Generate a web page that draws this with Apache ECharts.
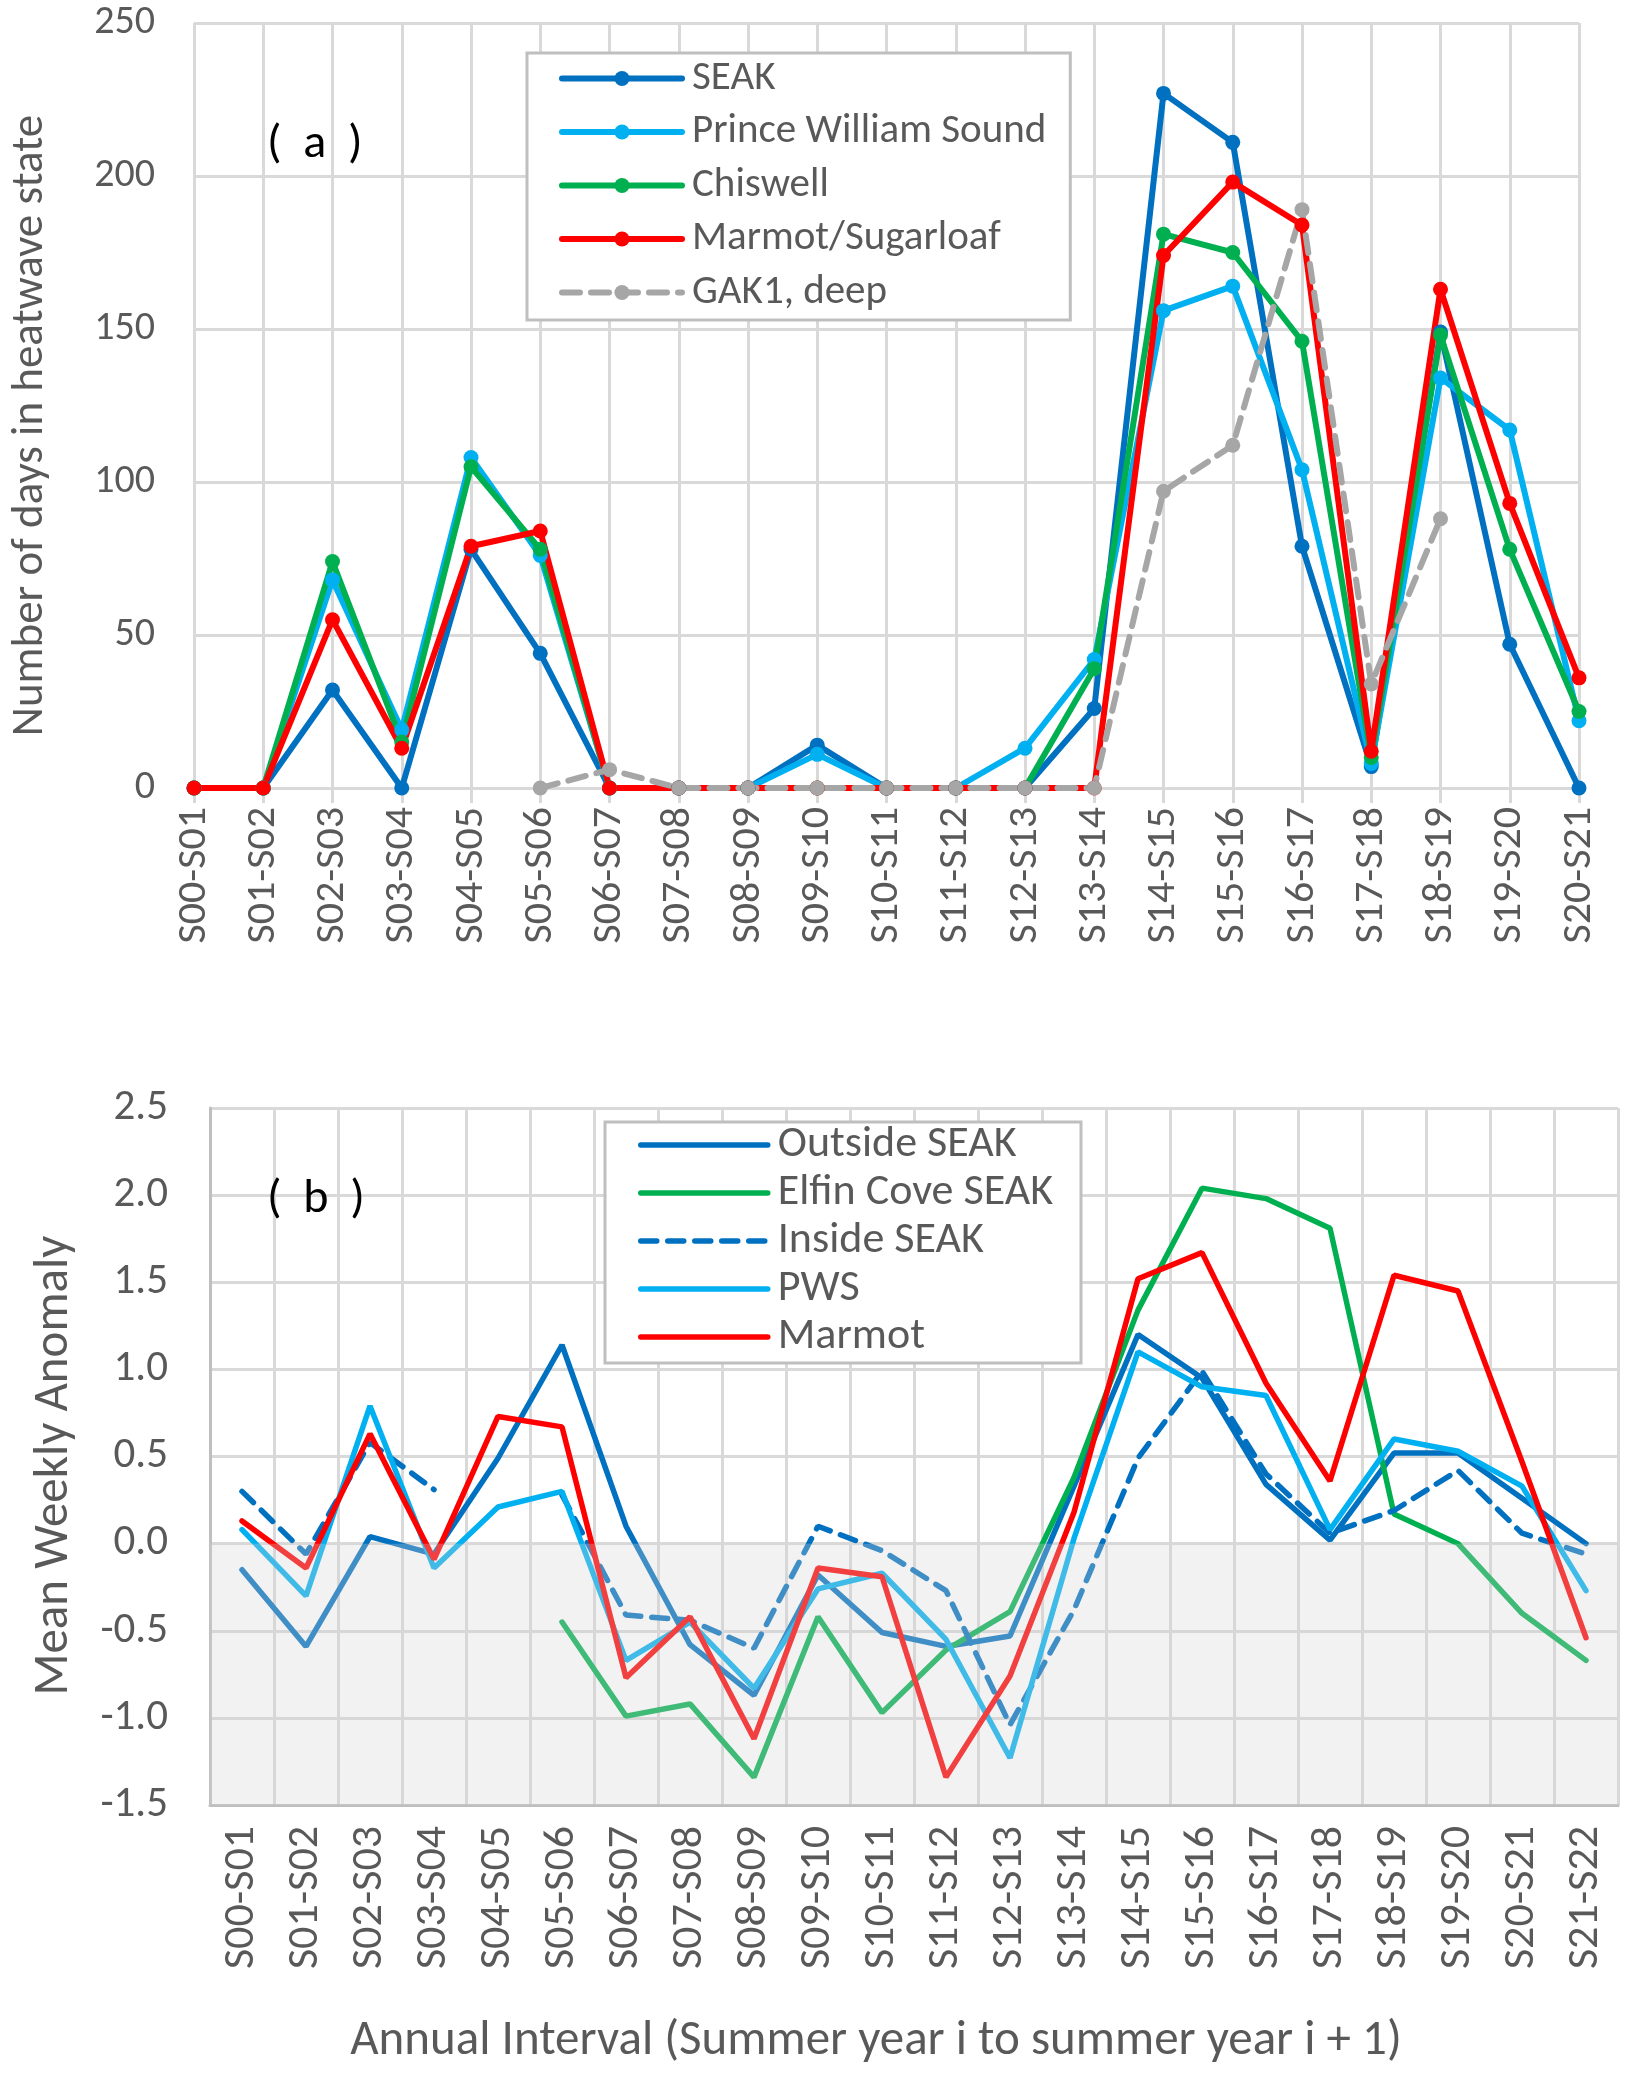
<!DOCTYPE html>
<html>
<head>
<meta charset="utf-8">
<title>Heatwave days and mean weekly anomaly</title>
<script src="https://cdn.jsdelivr.net/npm/echarts@6/dist/echarts.min.js"></script>
<style>
  html, body { margin: 0; padding: 0; background: #ffffff; }
  #chart { width: 1625px; height: 2073px; }
</style>
</head>
<body>
<div id="chart"></div>
<script>
// ── Panel (a): number of days in heatwave state ─────────────────────────────
const intervalsA = ['S00-S01', 'S01-S02', 'S02-S03', 'S03-S04', 'S04-S05', 'S05-S06', 'S06-S07',
  'S07-S08', 'S08-S09', 'S09-S10', 'S10-S11', 'S11-S12', 'S12-S13', 'S13-S14', 'S14-S15',
  'S15-S16', 'S16-S17', 'S17-S18', 'S18-S19', 'S19-S20', 'S20-S21'];

const seakDays     = [0, 0, 32, 0, 78, 44, 0, 0, 0, 14, 0, 0, 0, 26, 227, 211, 79, 7, 149, 47, 0];
const pwsDays      = [0, 0, 68, 19, 108, 76, 0, 0, 0, 11, 0, 0, 13, 42, 156, 164, 104, 8, 134, 117, 22];
const chiswellDays = [0, 0, 74, 15, 105, 78, 0, 0, 0, 0, 0, 0, 0, 39, 181, 175, 146, 10, 148, 78, 25];
const marmotDays   = [0, 0, 55, 13, 79, 84, 0, 0, 0, 0, 0, 0, 0, 0, 174, 198, 184, 12, 163, 93, 36];
const gak1Days     = [null, null, null, null, null, 0, 6, 0, 0, 0, 0, 0, 0, 0, 97, 112, 189, 34, 88, null, null];

// ── Panel (b): mean weekly anomaly ──────────────────────────────────────────
const intervalsB = ['S00-S01', 'S01-S02', 'S02-S03', 'S03-S04', 'S04-S05', 'S05-S06', 'S06-S07',
  'S07-S08', 'S08-S09', 'S09-S10', 'S10-S11', 'S11-S12', 'S12-S13', 'S13-S14', 'S14-S15',
  'S15-S16', 'S16-S17', 'S17-S18', 'S18-S19', 'S19-S20', 'S20-S21', 'S21-S22'];

const outsideSeak = [-0.15, -0.59, 0.04, -0.06, 0.49, 1.14, 0.10, -0.58, -0.87, -0.18, -0.51,
  -0.59, -0.53, 0.33, 1.20, 0.95, 0.34, 0.02, 0.52, 0.52, 0.26, 0.00];
const elfinCove   = [null, null, null, null, null, -0.45, -0.99, -0.92, -1.34, -0.42, -0.97,
  -0.61, -0.39, 0.38, 1.34, 2.04, 1.98, 1.81, 0.17, 0.00, -0.40, -0.67];
const insideSeak  = [0.30, -0.06, 0.58, 0.31, null, 0.28, -0.41, -0.44, -0.60, 0.10, -0.04,
  -0.27, -1.04, -0.38, 0.49, 0.99, 0.40, 0.06, 0.19, 0.42, 0.06, -0.06];
const pwsAnomaly  = [0.08, -0.30, 0.79, -0.14, 0.21, 0.30, -0.67, -0.45, -0.83, -0.26, -0.17,
  -0.55, -1.23, 0.03, 1.10, 0.90, 0.85, 0.08, 0.60, 0.53, 0.33, -0.27];
const marmotAnomaly = [0.13, -0.14, 0.63, -0.09, 0.73, 0.67, -0.77, -0.42, -1.12, -0.14, -0.19,
  -1.34, -0.76, 0.18, 1.52, 1.67, 0.92, 0.36, 1.54, 1.45, 0.47, -0.54];

// grey band below zero (drawn over the lines, like the original)
const belowZeroBand = [-1.5, -1.5, -1.5, -1.5, -1.5, -1.5, -1.5, -1.5, -1.5, -1.5, -1.5,
  -1.5, -1.5, -1.5, -1.5, -1.5, -1.5, -1.5, -1.5, -1.5, -1.5, -1.5];

const FONT = 'Carlito, Lato, sans-serif';
const TEXT_GREY = '#595959';
const GRID_GREY = '#d9d9d9';
const AXIS_GREY = '#bfbfbf';

const COLORS = {
  seak:   '#0070C0',
  pws:    '#00B0F0',
  green:  '#00B050',
  marmot: '#FF0000',
  gak1:   '#A6A6A6'
};

// ── Helpers ────────────────────────────────────────────────────────────────
function markedLine(name, data, color, dashed) {
  return {
    name,
    type: 'line',
    xAxisIndex: 0,
    yAxisIndex: 0,
    data,
    symbol: 'circle',
    symbolSize: 15,
    connectNulls: false,
    itemStyle: { color },
    lineStyle: { color, width: 6, type: dashed ? [18, 11] : 'solid', cap: 'round' }
  };
}

function plainLine(name, data, color, dashed) {
  return {
    name,
    type: 'line',
    xAxisIndex: 1,
    yAxisIndex: 1,
    data,
    symbol: 'none',
    showSymbol: false,
    connectNulls: false,
    itemStyle: { color },
    lineStyle: { color, width: 5.5, type: dashed ? [16, 11] : 'solid', cap: 'round' }
  };
}

function legendBox(names, left, top, padding, fontSize, gap, iconWidth, lineWidth, showMarker) {
  return {
    data: names,
    orient: 'vertical',
    left,
    top,
    padding,
    itemGap: gap,
    itemWidth: iconWidth,
    itemHeight: 19,
    borderColor: AXIS_GREY,
    borderWidth: 3,
    backgroundColor: '#ffffff',
    selectedMode: false,
    lineStyle: { width: lineWidth, cap: 'round' },
    itemStyle: showMarker ? {} : { opacity: 0 },
    textStyle: {
      fontFamily: FONT,
      fontSize,
      color: TEXT_GREY,
      lineHeight: 40,
      padding: [0, 0, 0, 5]
    }
  };
}

// ── Chart ──────────────────────────────────────────────────────────────────
function drawChart() {
  const chart = echarts.init(document.getElementById('chart'), null, { renderer: 'canvas' });

  const panelLabel = { fontFamily: FONT, fontSize: 48, fontWeight: 'normal', color: '#000' };

  const option = {
    backgroundColor: '#ffffff',
    animation: false,
    textStyle: { fontFamily: FONT },
    title: [
      { text: '(  a  )', left: 262, top: 116, textStyle: panelLabel },
      { text: '(  b  )', left: 262, top: 1171, textStyle: panelLabel }
    ],
    legend: [
      legendBox(['SEAK', 'Prince William Sound', 'Chiswell', 'Marmot/Sugarloaf', 'GAK1, deep'],
        527, 53, [5, 24, 7, 32], 41, 12.5, 120, 6, true),
      legendBox(['Outside SEAK', 'Elfin Cove SEAK', 'Inside SEAK', 'PWS', 'Marmot'],
        605, 1122, [1, 28, 4, 33], 44, 4, 127, 5.5, false)
    ],
    grid: [
      { left: 188, top: 23, width: 1391, height: 765 },
      { left: 210, top: 1108, width: 1408, height: 697 }
    ],
    xAxis: [
      {
        type: 'category',
        gridIndex: 0,
        data: intervalsA,
        boundaryGap: false,
        axisLine: { lineStyle: { color: GRID_GREY, width: 3 } },
        axisTick: { show: true, length: 15, alignWithLabel: true, lineStyle: { color: GRID_GREY, width: 3 } },
        axisLabel: { interval: 0, rotate: 90, margin: 19, fontSize: 42, color: TEXT_GREY, fontFamily: FONT },
        splitLine: { show: true, lineStyle: { color: GRID_GREY, width: 3 } }
      },
      {
        type: 'category',
        gridIndex: 1,
        data: intervalsB,
        boundaryGap: true,
        axisLine: { onZero: false, lineStyle: { color: AXIS_GREY, width: 3 } },
        axisTick: { show: false },
        axisLabel: { interval: 0, rotate: 90, margin: 21, fontSize: 44, color: TEXT_GREY, fontFamily: FONT },
        splitLine: { show: true, interval: 0, lineStyle: { color: GRID_GREY, width: 3 } },
        name: 'Annual Interval (Summer year i to summer year i + 1)',
        nameLocation: 'middle',
        nameGap: 212,
        nameTextStyle: { fontSize: 49, color: TEXT_GREY, fontFamily: FONT, padding: [0, 76, 0, 0] }
      }
    ],
    yAxis: [
      {
        type: 'value',
        gridIndex: 0,
        min: 0,
        max: 250,
        interval: 50,
        axisLine: { show: false },
        axisTick: { show: false },
        axisLabel: { margin: 39, fontSize: 40, color: TEXT_GREY, fontFamily: FONT },
        splitLine: { lineStyle: { color: GRID_GREY, width: 3 } },
        name: 'Number of days in heatwave state',
        nameLocation: 'middle',
        nameGap: 141,
        nameTextStyle: { fontSize: 45, color: TEXT_GREY, fontFamily: FONT, padding: [0, 40, 0, 0] }
      },
      {
        type: 'value',
        gridIndex: 1,
        min: -1.5,
        max: 2.5,
        interval: 0.5,
        axisLine: { show: true, lineStyle: { color: AXIS_GREY, width: 3 } },
        axisTick: { show: false },
        axisLabel: { margin: 42, fontSize: 43, color: TEXT_GREY, fontFamily: FONT, formatter: v => v.toFixed(1) },
        splitLine: { lineStyle: { color: GRID_GREY, width: 3 } },
        name: 'Mean Weekly Anomaly',
        nameLocation: 'middle',
        nameGap: 131,
        nameTextStyle: { fontSize: 49, color: TEXT_GREY, fontFamily: FONT, padding: [0, 18, 0, 0] }
      }
    ],
    series: [
      markedLine('SEAK', seakDays, COLORS.seak),
      markedLine('Prince William Sound', pwsDays, COLORS.pws),
      markedLine('Chiswell', chiswellDays, COLORS.green),
      markedLine('Marmot/Sugarloaf', marmotDays, COLORS.marmot),
      markedLine('GAK1, deep', gak1Days, COLORS.gak1, true),

      plainLine('Outside SEAK', outsideSeak, COLORS.seak),
      plainLine('Elfin Cove SEAK', elfinCove, COLORS.green),
      plainLine('Inside SEAK', insideSeak, COLORS.seak, true),
      plainLine('PWS', pwsAnomaly, COLORS.pws),
      plainLine('Marmot', marmotAnomaly, COLORS.marmot),

      {
        name: 'below zero',
        type: 'bar',
        xAxisIndex: 1,
        yAxisIndex: 1,
        data: belowZeroBand,
        barWidth: '100%',
        silent: true,
        z: 10,
        itemStyle: { color: 'rgba(212,212,212,0.3)' }
      }
    ]
  };

  chart.setOption(option);
}

drawChart();
</script>
</body>
</html>
